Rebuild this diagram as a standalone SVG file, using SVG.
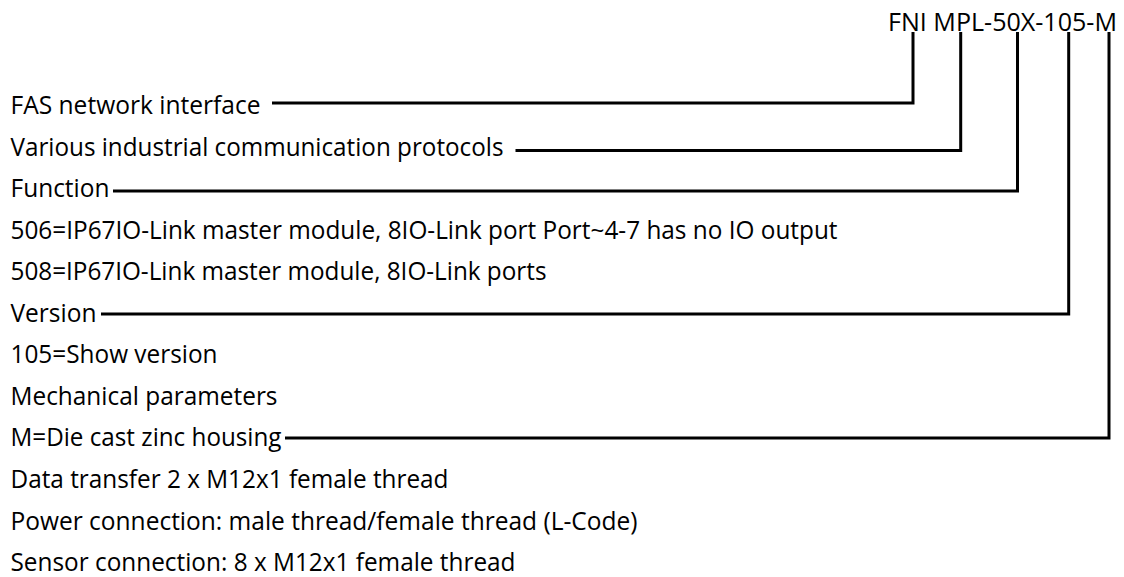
<svg xmlns="http://www.w3.org/2000/svg" width="1124" height="577" viewBox="0 0 1124 577">
<style>
  text { font-family: "Open Sans", "Noto Sans", "Liberation Sans", sans-serif; font-size: 25px; fill: #000; }
  .conn { fill: none; stroke: #000; stroke-width: 3; stroke-linejoin: miter; stroke-linecap: butt; }
</style>
<rect width="1124" height="577" fill="#fff"/>
<g id="title"><text x="888" y="31" textLength="229" lengthAdjust="spacingAndGlyphs">FNI MPL-50X-105-M</text></g>
<g id="row1"><text x="10.5" y="114" textLength="250" lengthAdjust="spacingAndGlyphs">FAS network interface</text></g>
<g id="row2"><text x="10.5" y="155.5" textLength="493" lengthAdjust="spacingAndGlyphs">Various industrial communication protocols</text></g>
<g id="row3"><text x="10.5" y="197" textLength="99" lengthAdjust="spacingAndGlyphs">Function</text></g>
<g id="row4"><text x="10.5" y="238.7" textLength="827" lengthAdjust="spacingAndGlyphs">506=IP67IO-Link master module, 8IO-Link port Port~4-7 has no IO output</text></g>
<g id="row5"><text x="10.5" y="280.2" textLength="536" lengthAdjust="spacingAndGlyphs">508=IP67IO-Link master module, 8IO-Link ports</text></g>
<g id="row6"><text x="10.5" y="321.8" textLength="86" lengthAdjust="spacingAndGlyphs">Version</text></g>
<g id="row7"><text x="10.5" y="363.3" textLength="207" lengthAdjust="spacingAndGlyphs">105=Show version</text></g>
<g id="row8"><text x="10.5" y="404.9" textLength="267" lengthAdjust="spacingAndGlyphs">Mechanical parameters</text></g>
<g id="row9"><text x="10.5" y="446.4" textLength="271" lengthAdjust="spacingAndGlyphs">M=Die cast zinc housing</text></g>
<g id="row10"><text x="10.5" y="488" textLength="438" lengthAdjust="spacingAndGlyphs">Data transfer 2 x M12x1 female thread</text></g>
<g id="row11"><text x="10.5" y="529.5" textLength="627" lengthAdjust="spacingAndGlyphs">Power connection: male thread/female thread (L-Code)</text></g>
<g id="row12"><text x="10.5" y="571" textLength="505" lengthAdjust="spacingAndGlyphs">Sensor connection: 8 x M12x1 female thread</text></g>
<g id="connectors">
  <path class="conn" d="M272,103 H913 V32"/>
  <path class="conn" d="M515.5,150.5 H960.7 V32"/>
  <path class="conn" d="M113,191 H1017.5 V32"/>
  <path class="conn" d="M101,314 H1068.7 V32"/>
  <path class="conn" d="M285,438 H1109 V32"/>
</g>
</svg>
